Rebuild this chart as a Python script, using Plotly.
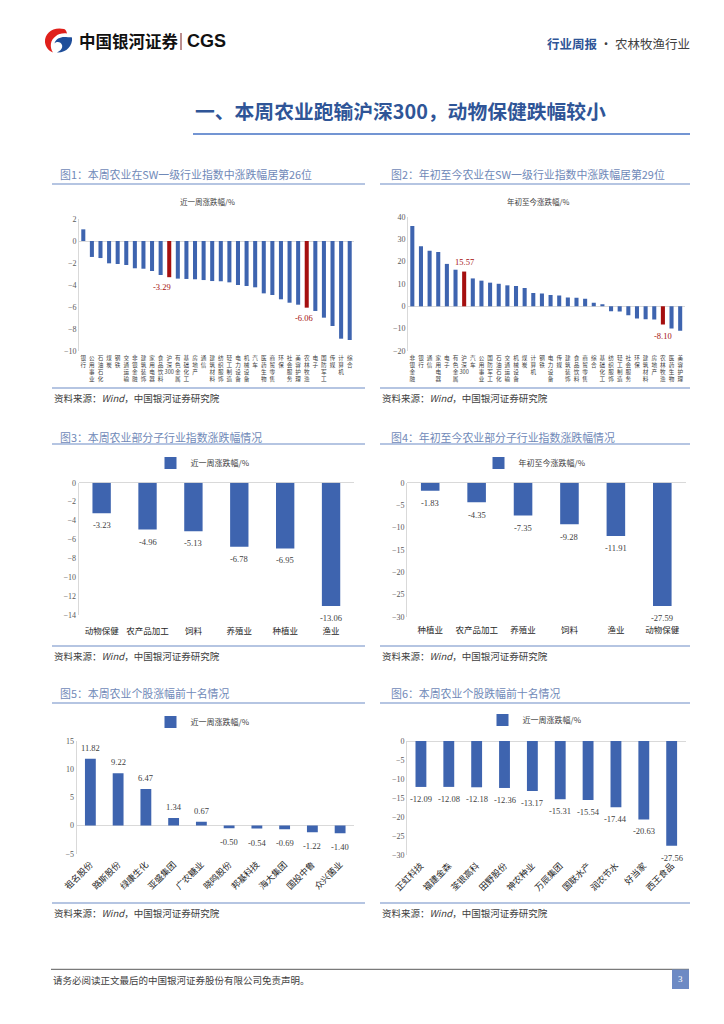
import plotly.graph_objects as go

W, H = 724, 1024
CJK = "Noto Sans CJK SC"
NUM = "Liberation Serif"
BLUE = "#3E64AF"
RED = "#A50F0F"

# ---------------- data ----------------
c1_categories = ['银行', '公用事业', '石油石化', '煤炭', '钢铁', '交通运输', '非银金融', '建筑装饰',
                 '家用电器', '食品饮料', '沪深300', '有色金属', '基础化工', '房地产', '通信', '建筑材料',
                 '纺织服饰', '轻工制造', '电力设备', '机械设备', '汽车', '医药生物', '商贸零售', '环保',
                 '社会服务', '美容护理', '农林牧渔', '电子', '国防军工', '传媒', '计算机', '综合']
c1_values = [1.06, -1.45, -1.55, -2.03, -2.09, -2.18, -2.48, -2.52, -2.73, -3.09, -3.29, -3.42,
             -3.45, -3.48, -3.55, -3.64, -3.66, -3.76, -4.00, -4.09, -4.21, -4.76, -4.91, -5.30,
             -5.61, -5.79, -6.06, -6.36, -6.97, -7.73, -8.88, -9.00]

c2_categories = ['非银金融', '银行', '通信', '家用电器', '电子', '有色金属', '沪深300', '汽车',
                 '公用事业', '国防军工', '石油石化', '交通运输', '机械设备', '煤炭', '计算机', '钢铁',
                 '电力设备', '传媒', '建筑装饰', '食品饮料', '商贸零售', '综合', '基础化工', '纺织服饰',
                 '轻工制造', '社会服务', '环保', '建筑材料', '房地产', '农林牧渔', '医药生物', '美容护理']
c2_values = [36.0, 26.9, 24.9, 24.3, 19.0, 16.4, 15.57, 12.5, 11.5, 10.6, 10.1, 9.4, 9.1, 8.2,
             6.0, 5.7, 5.1, 4.9, 3.9, 3.8, 3.4, 1.6, 0.9, -2.2, -2.3, -4.0, -5.4, -5.8, -5.9,
             -8.10, -9.9, -10.9]

highlight = ['沪深300', '农林牧渔']

c3_categories = ['动物保健', '农产品加工', '饲料', '养殖业', '种植业', '渔业']
c3_values = [-3.23, -4.96, -5.13, -6.78, -6.95, -13.06]

c4_categories = ['种植业', '农产品加工', '养殖业', '饲料', '渔业', '动物保健']
c4_values = [-1.83, -4.35, -7.35, -9.28, -11.91, -27.59]

c5_categories = ['祖名股份', '路斯股份', '绿康生化', '亚盛集团', '广农糖业', '晓鸣股份',
                 '邦基科技', '海大集团', '国投中鲁', '众兴菌业']
c5_values = [11.82, 9.22, 6.47, 1.34, 0.67, -0.50, -0.54, -0.69, -1.22, -1.40]

c6_categories = ['正虹科技', '福建金森', '荃银高科', '田野股份', '神农种业', '万辰集团',
                 '国联水产', '润农节水', '好当家', '西王食品']
c6_values = [-12.09, -12.08, -12.18, -12.36, -13.17, -15.31, -15.54, -17.44, -20.63, -27.56]

series_week = '近一周涨跌幅/%'
series_ytd = '年初至今涨跌幅/%'

panel_titles = ['图1：本周农业在SW一级行业指数中涨跌幅居第26位',
                '图2：年初至今农业在SW一级行业指数中涨跌幅居第29位',
                '图3：本周农业部分子行业指数涨跌幅情况',
                '图4：年初至今农业部分子行业指数涨跌幅情况',
                '图5：本周农业个股涨幅前十名情况',
                '图6：本周农业个股跌幅前十名情况']
source_text = '资料来源：<i>Wind</i>，中国银河证券研究院'


def X(p):
    return p / W


def Y(p):
    return 1 - p / H


def stack(s):
    parts, buf = [], ''
    for ch in s:
        if ch.isdigit():
            buf += ch
        else:
            if buf:
                parts.append(buf)
                buf = ''
            parts.append(ch)
    if buf:
        parts.append(buf)
    return '<br>'.join(parts)


fig = go.Figure()

# ---------------- traces ----------------
c1_colors = [RED if c in highlight else BLUE for c in c1_categories]
c2_colors = [RED if c in highlight else BLUE for c in c2_categories]

fig.add_trace(go.Bar(x=c1_categories, y=c1_values, marker=dict(color=c1_colors, line=dict(width=0)),
                     width=0.47, xaxis='x', yaxis='y', showlegend=False, name=series_week))
fig.add_trace(go.Bar(x=c2_categories, y=c2_values, marker=dict(color=c2_colors, line=dict(width=0)),
                     width=0.47, xaxis='x2', yaxis='y2', showlegend=False, name=series_ytd))
fig.add_trace(go.Bar(x=c3_categories, y=c3_values, marker=dict(color=BLUE, line=dict(width=0)),
                     width=0.4, xaxis='x3', yaxis='y3', name=series_week, legend='legend'))
fig.add_trace(go.Bar(x=c4_categories, y=c4_values, marker=dict(color=BLUE, line=dict(width=0)),
                     width=0.4, xaxis='x4', yaxis='y4', name=series_ytd, legend='legend2'))
fig.add_trace(go.Bar(x=c5_categories, y=c5_values, marker=dict(color=BLUE, line=dict(width=0)),
                     width=0.39, xaxis='x5', yaxis='y5', name=series_week, legend='legend3'))
fig.add_trace(go.Bar(x=c6_categories, y=c6_values, marker=dict(color=BLUE, line=dict(width=0)),
                     width=0.39, xaxis='x6', yaxis='y6', name=series_week, legend='legend4'))

# ---------------- axes ----------------
def xax(dom, n, anchor, font, angle=0, standoff=None, ticktext=None, tickvals=None):
    d = dict(domain=[X(dom[0]), X(dom[1])], range=[-0.5, n - 0.5], anchor=anchor,
             showline=False, showgrid=False, zeroline=False, ticks='', tickangle=angle,
             tickfont=font, fixedrange=True, type='category', automargin=False)
    if standoff is not None:
        d['ticklabelstandoff'] = standoff
    if ticktext is not None:
        d['tickvals'] = tickvals
        d['ticktext'] = ticktext
    return d


def yax(dom, rng, dtick, anchor):
    return dict(domain=[Y(dom[1]), Y(dom[0])], range=rng, dtick=dtick, anchor=anchor,
                showgrid=False, showline=True, linecolor='#D9D9D9', linewidth=1,
                zeroline=True, zerolinecolor='#D9D9D9', zerolinewidth=1, ticks='',
                tickfont=dict(family=NUM, size=8, color='#595959'), fixedrange=True,
                automargin=False)


small = dict(family=CJK, size=5.6, color='#404040')
mid = dict(family=CJK, size=8.5, color='#262626')
mid_bold = dict(family=CJK, size=8.8, color='#1F1F1F')

layout_axes = dict(
    xaxis=xax((79, 354), len(c1_categories), 'y', small, standoff=2,
              ticktext=[stack(c) for c in c1_categories], tickvals=c1_categories),
    yaxis=yax((219, 351), [-10, 2], 2, 'x'),
    xaxis2=xax((408, 684.5), len(c2_categories), 'y2', small, standoff=2,
               ticktext=[stack(c) for c in c2_categories], tickvals=c2_categories),
    yaxis2=yax((217, 351), [-20, 40], 10, 'x2'),
    xaxis3=xax((78.7, 354), len(c3_categories), 'y3', mid, standoff=9),
    yaxis3=yax((482.7, 615), [-14, 0], 2, 'x3'),
    xaxis4=xax((407, 685.5), len(c4_categories), 'y4', mid, standoff=7),
    yaxis4=yax((482.7, 616.7), [-30, 0], 5, 'x4'),
    xaxis5=xax((76.5, 354), len(c5_categories), 'y5', mid_bold, angle=-45, standoff=3),
    yaxis5=yax((740.7, 853.7), [-5, 15], 5, 'x5'),
    xaxis6=xax((407, 685.6), len(c6_categories), 'y6', mid_bold, angle=-45, standoff=3),
    yaxis6=yax((741, 855), [-30, 0], 5, 'x6'),
)

# ---------------- annotations ----------------
ann = []


def text(x, y, s, size, color, anchor='left', family=CJK, yanchor='middle'):
    ann.append(dict(x=X(x), y=Y(y), xref='paper', yref='paper', text=s, showarrow=False,
                    xanchor=anchor, yanchor=yanchor, font=dict(family=family, size=size, color=color)))


# data labels
def data_labels(cats, vals, ax, up, down, color='#404040', only=None, xshift=None):
    for i, (c, v) in enumerate(zip(cats, vals)):
        if only is not None and c not in only:
            continue
        ann.append(dict(x=c, y=v, xref=ax[0], yref=ax[1], text=f'{v:.2f}', showarrow=False,
                        yshift=up if v >= 0 else down, xshift=(xshift or {}).get(c, 0),
                        font=dict(family=NUM, size=8.5, color=color)))


data_labels(c1_categories, c1_values, ('x', 'y'), 10, -10, RED, highlight,
            xshift={'沪深300': -7, '农林牧渔': -3})
data_labels(c2_categories, c2_values, ('x2', 'y2'), 10, -12, RED, highlight)
data_labels(c3_categories, c3_values, ('x3', 'y3'), 11, -12)
data_labels(c4_categories, c4_values, ('x4', 'y4'), 11, -12.5)
data_labels(c5_categories, c5_values, ('x5', 'y5'), 11, -14)
data_labels(c6_categories, c6_values, ('x6', 'y6'), 11, -12)

# header
text(77, 41, '<b>中国银河证券</b>', 16.5, '#111111')
text(185, 41, '<b>CGS</b>', 18, '#111111', family='Liberation Sans')
text(692, 43, '<b><span style="color:#2F5597">行业周报</span></b> · 农林牧渔行业', 12.5, '#404040', anchor='right')
text(193, 110, '<b>一、本周农业跑输沪深300，动物保健跌幅较小</b>', 19.8, '#2F5597')

# panel titles / sources
left_x, right_x = 58, 389
rows = [(174, 388, 398), (437, 646, 656), (693, 903, 913)]
for r, (ty, sy, st) in enumerate(rows):
    text(left_x, ty, panel_titles[2 * r], 10.9, '#7089B8')
    text(right_x, ty, panel_titles[2 * r + 1], 10.9, '#7089B8')
    text(52, st, source_text, 9.5, '#404040')
    text(380, st, source_text, 9.5, '#404040')

# inner chart titles for 1 and 2
text(207, 201, series_week, 7.5, '#404040', anchor='center')
text(538, 201, series_ytd, 7.5, '#404040', anchor='center')

# footer
text(51, 980, '请务必阅读正文最后的中国银河证券股份有限公司免责声明。', 9.5, '#404040')
text(680.5, 979, '3', 9, '#FFFFFF', anchor='center', family=NUM)

# ---------------- shapes ----------------
shapes = []


def hline(x0, x1, y, color, width):
    shapes.append(dict(type='line', xref='paper', yref='paper', x0=X(x0), x1=X(x1), y0=Y(y), y1=Y(y),
                       line=dict(color=color, width=width)))


hline(193, 690, 134, '#4472C4', 1.3)
title_line_y = [184, 444, 703]
for (ty, sy, st), ly in zip(rows, title_line_y):
    hline(52, 365, ly, '#9DB2D8', 1.6)
    hline(380, 690, ly, '#9DB2D8', 1.6)
    hline(52, 365, sy, '#9DB2D8', 1.6)
    hline(380, 690, sy, '#9DB2D8', 1.6)

hline(51, 689, 969.3, '#595959', 1)
shapes.append(dict(type='rect', xref='paper', yref='paper', x0=X(672), x1=X(689), y0=Y(989), y1=Y(969.5),
                   fillcolor='#6D8AC4', line=dict(width=0)))
# logo divider
shapes.append(dict(type='line', xref='paper', yref='paper', x0=X(181), x1=X(181), y0=Y(33), y1=Y(50),
                   line=dict(color='#7A1F1F', width=1)))


def path(points):
    s = 'M {:.5f},{:.5f}'.format(X(points[0][0]), Y(points[0][1]))
    rest = points[1:]
    for i in range(0, len(rest), 3):
        a, b, c = rest[i], rest[i + 1], rest[i + 2]
        s += ' C {:.5f},{:.5f} {:.5f},{:.5f} {:.5f},{:.5f}'.format(X(a[0]), Y(a[1]), X(b[0]), Y(b[1]), X(c[0]), Y(c[1]))
    return s + ' Z'


red_logo = [(64, 29), (53, 26.5), (44.5, 33), (45, 42), (45.5, 47.5), (49, 51), (53, 52.5),
            (49.5, 47), (50, 40), (56, 36), (58.5, 34), (62, 33), (67, 33.5),
            (66.5, 31), (65.5, 29.5), (64, 29)]
blue_logo = [(72, 37.5), (73, 46), (66, 53), (57, 52.5), (60.5, 51), (63, 48), (62, 45),
             (61, 42), (57, 41), (54.5, 43.5), (55.5, 38.5), (61, 36.5), (66, 37),
             (69, 37.2), (71, 37.3), (72, 37.5)]
shapes.append(dict(type='path', xref='paper', yref='paper', path=path(red_logo),
                   fillcolor='#E0201B', line=dict(width=0)))
shapes.append(dict(type='path', xref='paper', yref='paper', path=path(blue_logo),
                   fillcolor='#1F4E9A', line=dict(width=0)))

# ---------------- legends ----------------
def leg(x, y):
    return dict(x=X(x), y=Y(y), xanchor='center', yanchor='middle', orientation='h',
                font=dict(family=CJK, size=8, color='#404040'), bgcolor='rgba(0,0,0,0)',
                itemwidth=30, itemclick=False, itemdoubleclick=False)


fig.update_layout(
    width=W, height=H, margin=dict(l=0, r=0, t=0, b=0, pad=0, autoexpand=False),
    paper_bgcolor='white', plot_bgcolor='rgba(0,0,0,0)',
    showlegend=True,
    legend=leg(203, 463), legend2=leg(535, 463), legend3=leg(203, 722), legend4=leg(535, 720),
    annotations=ann, shapes=shapes, font=dict(family=CJK),
    **layout_axes,
)

fig.write_html('out.html', config={'displayModeBar': False},
               post_script="document.body.style.margin='0';document.body.style.overflow='hidden';")
